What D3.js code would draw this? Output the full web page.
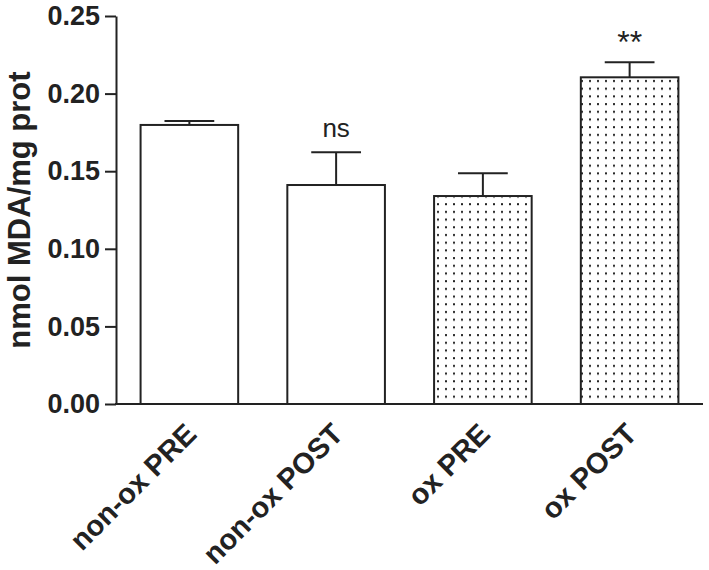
<!DOCTYPE html>
<html>
<head>
<meta charset="utf-8">
<script src="https://cdn.jsdelivr.net/npm/d3@7"></script>
<style>
  body { margin: 0; background: #fff; }
  svg { display: block; font-family: "Liberation Sans", Arial, sans-serif; }
</style>
</head>
<body>
<svg id="chart"></svg>
<script>
// данные диаграммы
let categories = ["non-ox PRE", "non-ox POST", "ox PRE", "ox POST"];
let means = [0.1798, 0.1411, 0.1340, 0.2105];
let errors = [0.0025, 0.0211, 0.0146, 0.0097];
let dotted = [false, false, true, true];
let marks = ["", "ns", "", "**"];
let yTicks = [0.00, 0.05, 0.10, 0.15, 0.20, 0.25];

let width = 709;
let height = 570;
let ink = "#222";

let svg = d3.select("#chart")
    .attr("width", width)
    .attr("height", height);

// узор из точек для группы ox
let pat = svg.append("defs").append("pattern")
    .attr("id", "dots")
    .attr("patternUnits", "userSpaceOnUse")
    .attr("width", 8)
    .attr("height", 7.7)
    .attr("x", 2)
    .attr("y", 0);
pat.append("rect")
    .attr("width", 8).attr("height", 7.7)
    .attr("fill", "#fff");
pat.append("rect")
    .attr("x", 3).attr("y", 3)
    .attr("width", 2).attr("height", 2)
    .attr("fill", "#222");

// шкалы
let scaleX = d3.scaleBand()
    .domain(categories)
    .range([116, 703])
    .paddingInner(0.335)
    .paddingOuter(0.1675);

let scaleY = d3.scaleLinear()
    .domain([0, 0.25])
    .range([404, 16]);

// столбики
svg.append("g")
    .selectAll("rect")
    .data(categories)
    .enter()
    .append("rect")
    .attr("x", d => scaleX(d))
    .attr("width", scaleX.bandwidth())
    .attr("y", (d, i) => scaleY(means[i]))
    .attr("height", (d, i) => scaleY(0) - scaleY(means[i]))
    .attr("fill", (d, i) => dotted[i] ? "url(#dots)" : "#fff")
    .attr("stroke", ink)
    .attr("stroke-width", 2);

// планки погрешностей (только вверх)
let capW = scaleX.bandwidth() * 0.51;
let err = svg.append("g")
    .attr("stroke", ink)
    .attr("stroke-width", 2);
categories.forEach(function(d, i) {
    let cx = scaleX(d) + scaleX.bandwidth() / 2;
    err.append("line")
        .attr("x1", cx).attr("x2", cx)
        .attr("y1", scaleY(means[i]))
        .attr("y2", scaleY(means[i] + errors[i]));
    err.append("line")
        .attr("x1", cx - capW / 2).attr("x2", cx + capW / 2)
        .attr("y1", scaleY(means[i] + errors[i]))
        .attr("y2", scaleY(means[i] + errors[i]));
});

// значимость
svg.append("g")
    .selectAll("text")
    .data(categories)
    .enter()
    .append("text")
    .attr("x", d => scaleX(d) + scaleX.bandwidth() / 2)
    .attr("y", (d, i) => scaleY(means[i] + errors[i]) - (marks[i] === "**" ? 9 : 15))
    .attr("text-anchor", "middle")
    .attr("font-size", (d, i) => marks[i] === "**" ? 32 : 26)
    .attr("fill", ink)
    .text((d, i) => marks[i]);

// ось OY
let axisY = d3.axisLeft(scaleY)
    .tickValues(yTicks)
    .tickFormat(d3.format(".2f"))
    .tickSize(11)
    .tickSizeOuter(0)
    .tickPadding(5);

let gy = svg.append("g")
    .attr("transform", "translate(116, 0)")
    .call(axisY);
gy.select(".domain").attr("stroke", ink).attr("stroke-width", 2);
gy.selectAll(".tick line").attr("stroke", ink).attr("stroke-width", 2);
gy.selectAll(".tick text")
    .attr("font-size", 27)
    .attr("font-weight", "bold")
    .attr("font-family", "'Liberation Sans', Arial, sans-serif")
    .attr("fill", ink);

// ось OX
svg.append("line")
    .attr("x1", 115).attr("x2", 703)
    .attr("y1", scaleY(0)).attr("y2", scaleY(0))
    .attr("stroke", ink)
    .attr("stroke-width", 2);

// подписи категорий под углом
svg.append("g")
    .selectAll("text")
    .data(categories)
    .enter()
    .append("text")
    .attr("transform", d => `translate(${scaleX(d) + scaleX.bandwidth() / 2 + 1}, 428) rotate(-45)`)
    .attr("dy", 11)
    .attr("text-anchor", "end")
    .attr("font-size", 29)
    .attr("font-weight", "bold")
    .attr("fill", ink)
    .text(d => d);

// подпись оси OY
svg.append("text")
    .attr("transform", "translate(30, 210) rotate(-90)")
    .attr("text-anchor", "middle")
    .attr("font-size", 31)
    .attr("font-weight", "bold")
    .attr("fill", ink)
    .text("nmol MDA/mg prot");
</script>
</body>
</html>
